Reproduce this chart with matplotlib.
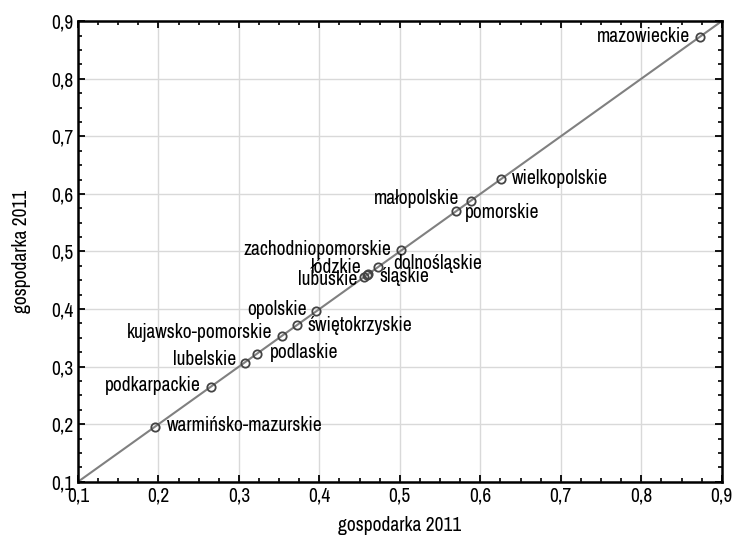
import numpy as np
import matplotlib.pyplot as plt
from matplotlib.ticker import MultipleLocator, FuncFormatter

# wartości (ta sama zmienna na obu osiach)
regiony = ["mazowieckie", "wielkopolskie", "małopolskie", "pomorskie",
           "zachodniopomorskie", "dolnośląskie", "łódzkie", "śląskie",
           "lubuskie", "opolskie", "świętokrzyskie", "kujawsko-pomorskie",
           "podlaskie", "lubelskie", "podkarpackie", "warmińsko-mazurskie"]
gospodarka_2011 = [0.873, 0.626, 0.588, 0.570,
                   0.502, 0.473, 0.461, 0.459,
                   0.456, 0.396, 0.372, 0.354,
                   0.322, 0.307, 0.265, 0.196]

# położenie etykiet (przesunięcie w pikselach, wyrównanie)
etykiety = {
    "mazowieckie": (-10, 0, "right"),
    "wielkopolskie": (11, 0, "left"),
    "małopolskie": (-11, 2, "right"),
    "pomorskie": (9, -1, "left"),
    "zachodniopomorskie": (-10, 1, "right"),
    "dolnośląskie": (15, 4, "left"),
    "łódzkie": (-7, 6, "right"),
    "śląskie": (13, -1, "left"),
    "lubuskie": (-7, -3, "right"),
    "opolskie": (-9, 2, "right"),
    "świętokrzyskie": (11, 0, "left"),
    "kujawsko-pomorskie": (-10, 3, "right"),
    "podlaskie": (13, 1, "left"),
    "lubelskie": (-8, 3, "right"),
    "podkarpackie": (-10, 1, "right"),
    "warmińsko-mazurskie": (12, 1, "left"),
}

plt.rcParams['font.family'] = ['Archivo Narrow', 'Liberation Sans', 'DejaVu Sans']

fig = plt.figure(figsize=(7.35, 5.42), dpi=100)
ax = fig.add_axes([0.106, 0.111, 0.876, 0.850])

lim = (0.1, 0.9)
ax.plot(lim, lim, color="#808080", linewidth=1.5, zorder=2)
ax.plot(gospodarka_2011, gospodarka_2011, linestyle="none", marker="o",
        markersize=6, markerfacecolor="none", markeredgecolor="#444444",
        markeredgewidth=1.3, zorder=3)

for nazwa, v in zip(regiony, gospodarka_2011):
    dx, dy, ha = etykiety[nazwa]
    ax.annotate(nazwa, (v, v), xytext=(dx, dy), textcoords="offset pixels",
                ha=ha, va="center", fontsize=14, color="black")

ax.set_xlim(*lim)
ax.set_ylim(*lim)
fmt = FuncFormatter(lambda v, p: f"{v:.1f}".replace(".", ","))
for a in (ax.xaxis, ax.yaxis):
    a.set_major_locator(MultipleLocator(0.1))
    a.set_minor_locator(MultipleLocator(0.025))
    a.set_major_formatter(fmt)
ax.tick_params(which="both", direction="in", top=True, right=True, labelsize=14)
ax.tick_params(which="major", length=5, width=1.3, pad=3)
ax.tick_params(which="minor", length=3, width=1.2)
ax.grid(True, which="major", color="#d9d9d9", linewidth=1)
ax.set_axisbelow(True)
for s in ax.spines.values():
    s.set_linewidth(1.8)

ax.set_xlabel("gospodarka 2011", fontsize=14, labelpad=8)
ax.set_ylabel("gospodarka 2011", fontsize=14, labelpad=15)

fig.savefig("out.png", dpi=100)
